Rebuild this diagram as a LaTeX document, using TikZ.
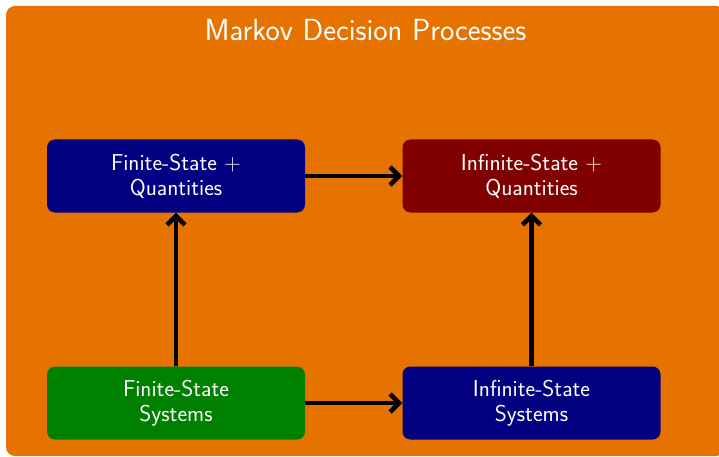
\documentclass[tikz,border=0pt]{standalone}
\usetikzlibrary{arrows.meta}
\definecolor{panelorange}{RGB}{230,115,0}
\definecolor{boxnavy}{RGB}{0,0,128}
\definecolor{boxmaroon}{RGB}{128,0,0}
\definecolor{boxgreen}{RGB}{0,128,0}
\tikzset{
  stagebox/.style={rounded corners=8pt, minimum width=258pt, minimum height=73pt,
    text=white, align=center, inner sep=0pt,
    font=\sffamily\fontsize{23}{25}\selectfont},
  flow/.style={line width=4.5pt, -{Straight Barb[length=9pt,width=18pt,line width=4.5pt]}},
}
\begin{document}
\begin{tikzpicture}[x=1pt,y=-1pt]
  \useasboundingbox (0,0) rectangle (719,457);
  \fill[white] (0,0) rectangle (719,457);
  % outer panel
  \fill[panelorange, rounded corners=9pt] (6,6) rectangle (725,456);
  \node[text=white, font=\sffamily\fontsize{30.5}{34}\selectfont] (title) at (365.5,30) {Markov Decision Processes};
  % four stages
  \node[stagebox, fill=boxnavy]   (fq) at (176,176)   {Finite-State +\\Quantities};
  \node[stagebox, fill=boxmaroon] (iq) at (531.5,176) {Infinite-State +\\Quantities};
  \node[stagebox, fill=boxgreen]  (fs) at (176,403)   {Finite-State\\Systems};
  \node[stagebox, fill=boxnavy]   (is) at (531.5,403) {Infinite-State\\Systems};
  % connectors
  \draw[flow] (fq) -- (iq);
  \draw[flow] (fs) -- (is);
  \draw[flow] (fs) -- (fq);
  \draw[flow] (is) -- (iq);
\end{tikzpicture}
\end{document}
